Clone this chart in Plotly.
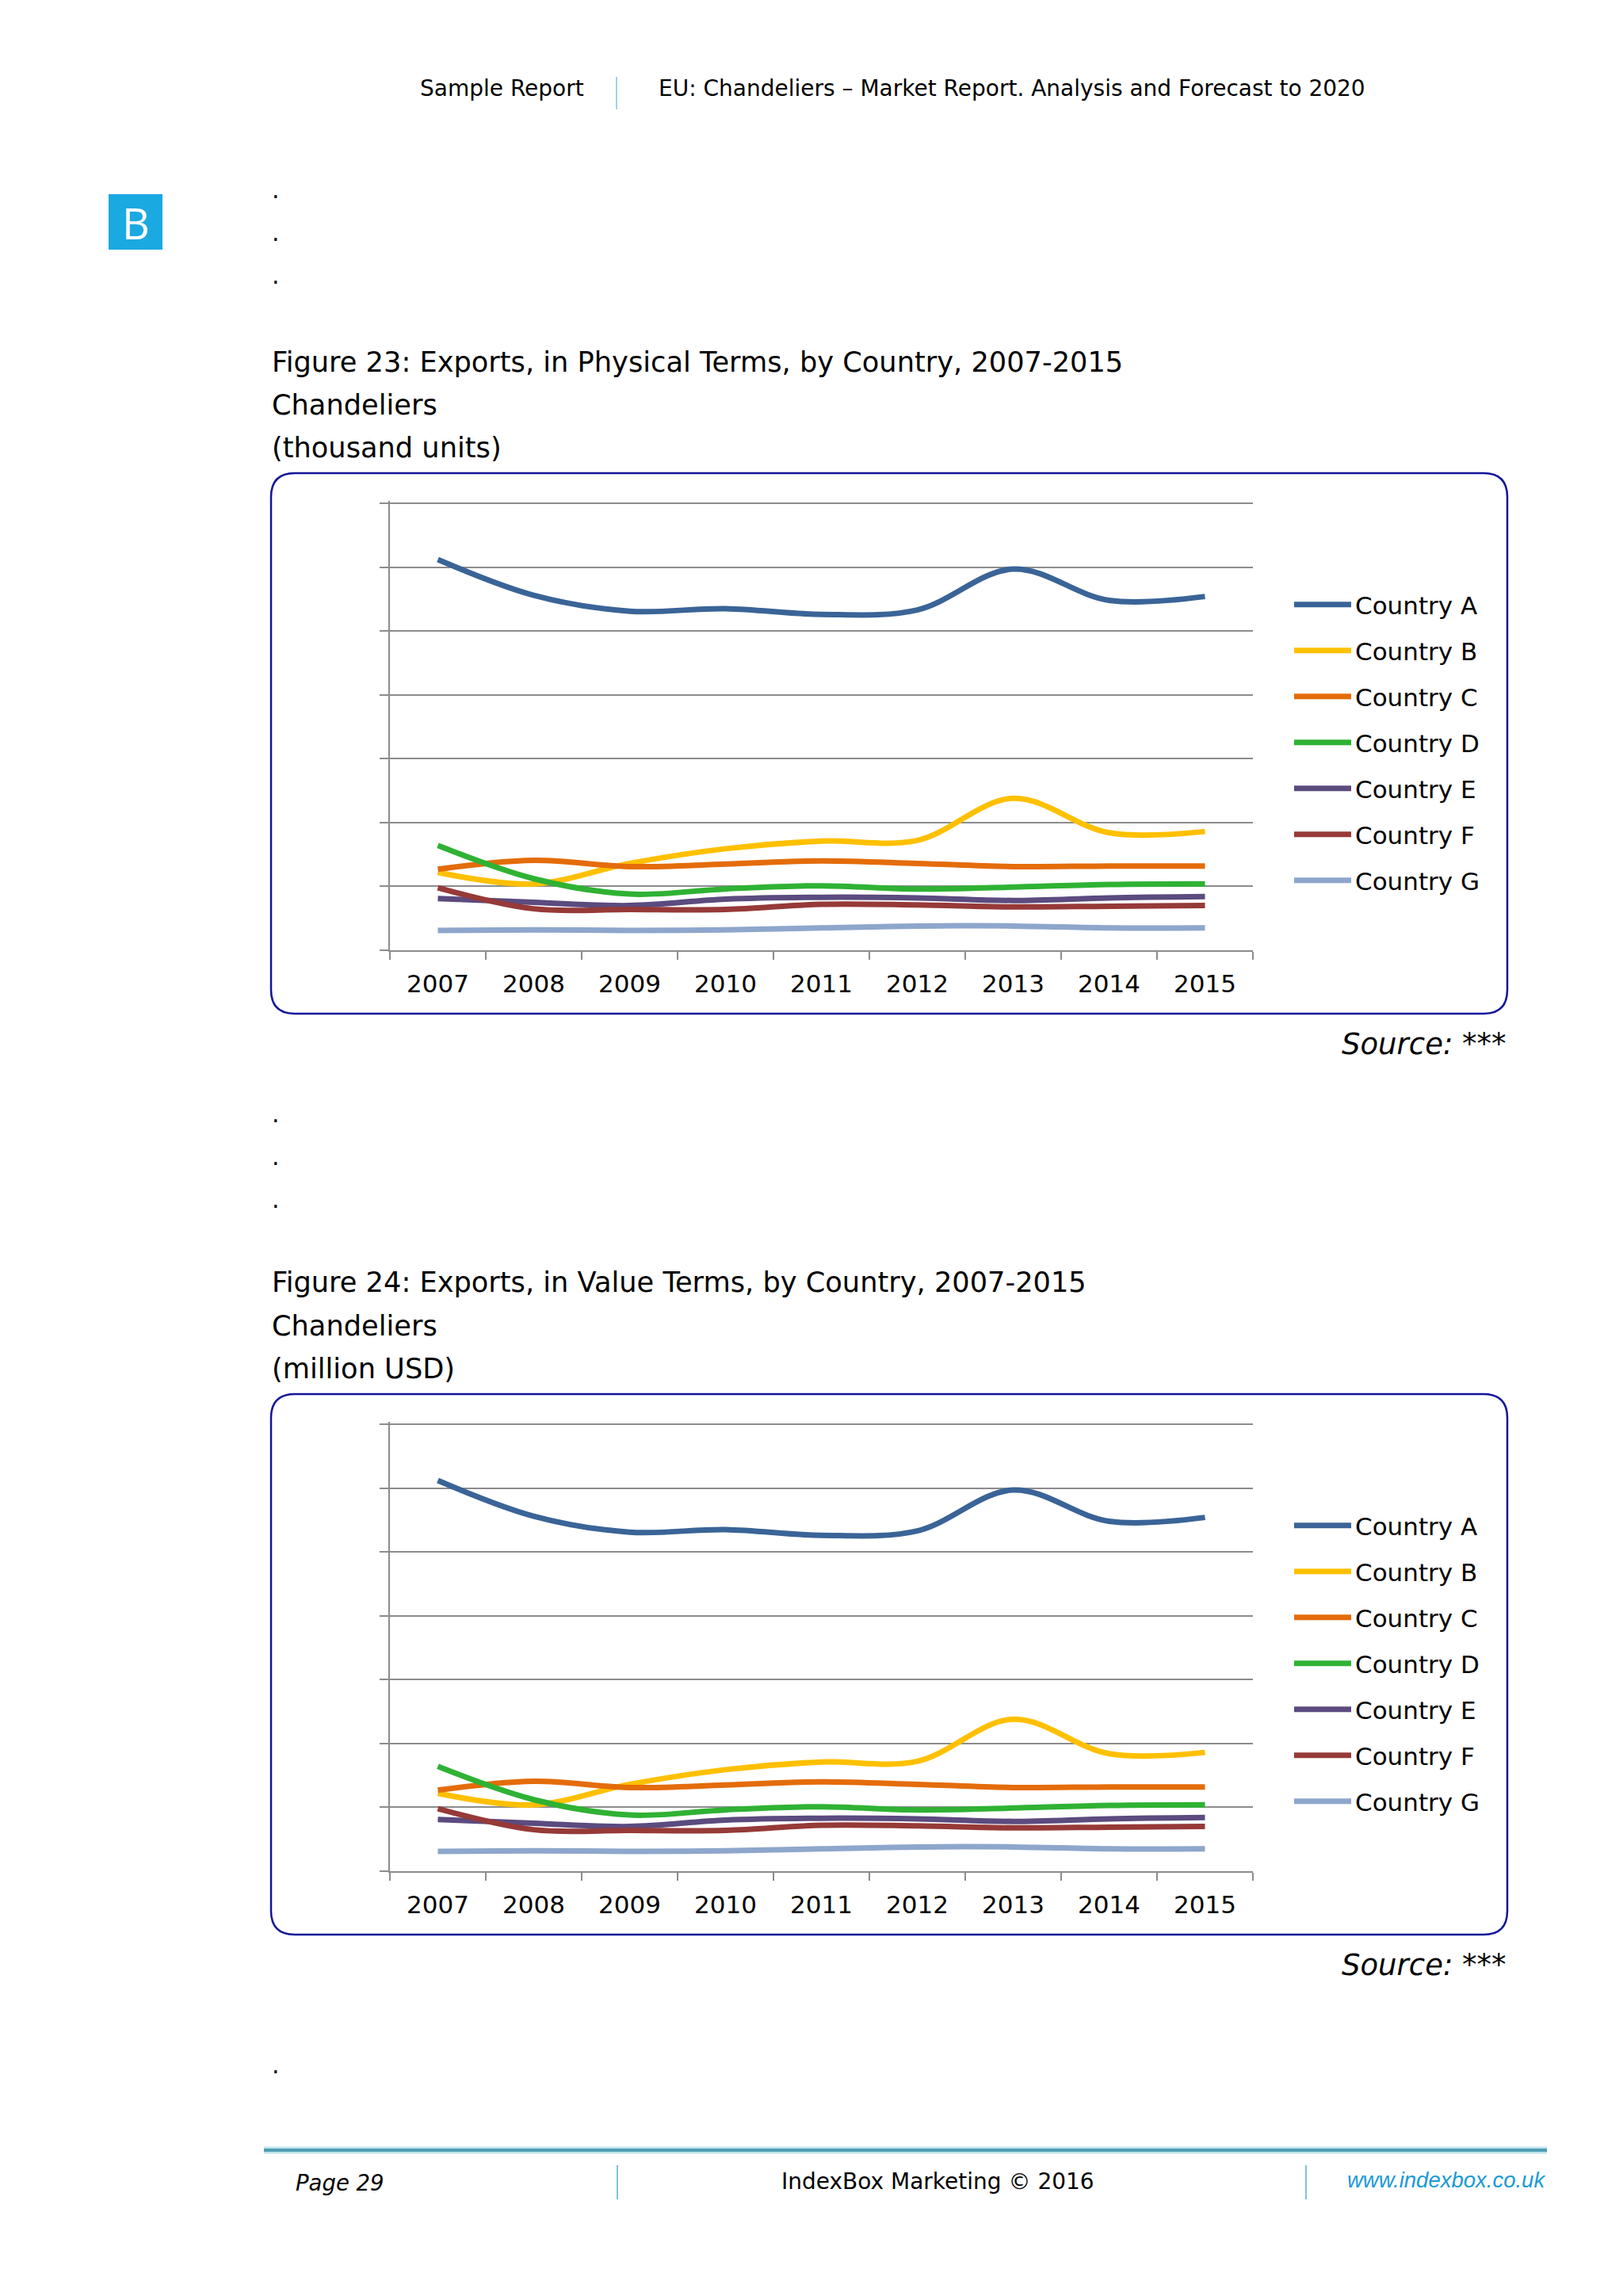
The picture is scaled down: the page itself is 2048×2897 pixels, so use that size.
import plotly.graph_objects as go

# ---------------- data ----------------
years = ["2007", "2008", "2009", "2010", "2011", "2012", "2013", "2014", "2015"]
countries = ["Country A", "Country B", "Country C", "Country D", "Country E", "Country F", "Country G"]

# Figure 23: physical terms (grid units, axis 0..7, no labels shown)
phys_country_a = [6.12, 5.56, 5.31, 5.35, 5.26, 5.33, 5.97, 5.48, 5.54]
phys_country_b = [1.22, 1.04, 1.36, 1.59, 1.71, 1.72, 2.38, 1.84, 1.86]
phys_country_c = [1.27, 1.41, 1.31, 1.35, 1.40, 1.36, 1.31, 1.32, 1.32]
phys_country_d = [1.64, 1.12, 0.88, 0.96, 1.01, 0.96, 0.99, 1.03, 1.04]
phys_country_e = [0.81, 0.75, 0.70, 0.80, 0.83, 0.82, 0.78, 0.82, 0.84]
phys_country_f = [0.98, 0.65, 0.64, 0.64, 0.72, 0.71, 0.68, 0.69, 0.70]
phys_country_g = [0.31, 0.32, 0.31, 0.32, 0.35, 0.38, 0.38, 0.35, 0.35]

# Figure 24: value terms
value_country_a = [6.12, 5.56, 5.31, 5.35, 5.26, 5.33, 5.97, 5.48, 5.54]
value_country_b = [1.22, 1.04, 1.36, 1.59, 1.71, 1.72, 2.38, 1.84, 1.86]
value_country_c = [1.27, 1.41, 1.31, 1.35, 1.40, 1.36, 1.31, 1.32, 1.32]
value_country_d = [1.64, 1.12, 0.88, 0.96, 1.01, 0.96, 0.99, 1.03, 1.04]
value_country_e = [0.81, 0.75, 0.70, 0.80, 0.83, 0.82, 0.78, 0.82, 0.84]
value_country_f = [0.98, 0.65, 0.64, 0.64, 0.72, 0.71, 0.68, 0.69, 0.70]
value_country_g = [0.31, 0.32, 0.31, 0.32, 0.35, 0.38, 0.38, 0.35, 0.35]

series_colors = ["#3A6497", "#FFC000", "#E46C0A", "#2FB234", "#5B4B7F", "#963A38", "#8EA6CC"]

# ---------------- layout helpers ----------------
W, H = 2048, 2897
def px(x):
    return x / W
def py(y):
    return 1 - y / H

FONT = "DejaVu Sans"
GRID = "#8C8C8C"
NAVY = "#14149A"
OFF = 1162  # vertical offset between the two figures
YMAX = 7.04
UNIT = (1199 - 635) / 7.0
PLOT_TOP = 1199 - YMAX * UNIT

fig = go.Figure()

phys = [phys_country_a, phys_country_b, phys_country_c, phys_country_d,
        phys_country_e, phys_country_f, phys_country_g]
vals = [value_country_a, value_country_b, value_country_c, value_country_d,
        value_country_e, value_country_f, value_country_g]

for i, name in enumerate(countries):
    fig.add_trace(go.Scatter(
        x=years, y=phys[i], name=name, mode="lines",
        line=dict(color=series_colors[i], width=7, shape="spline", smoothing=1.0),
        xaxis="x", yaxis="y", legend="legend", legendgroup="p" + str(i),
        hoverinfo="skip"))
for i, name in enumerate(countries):
    fig.add_trace(go.Scatter(
        x=years, y=vals[i], name=name, mode="lines",
        line=dict(color=series_colors[i], width=7, shape="spline", smoothing=1.0),
        xaxis="x2", yaxis="y2", legend="legend2", legendgroup="v" + str(i),
        hoverinfo="skip"))

def xaxis_cfg(anchor):
    return dict(
        domain=[px(492), px(1581)], anchor=anchor, type="category",
        categoryorder="array", categoryarray=years, range=[-0.5, 8.5],
        tickson="boundaries", ticks="outside", ticklen=10, tickwidth=2,
        tickcolor=GRID, showline=True, linecolor=GRID, linewidth=2,
        showgrid=False, zeroline=False, ticklabelstandoff=14,
        tickfont=dict(family=FONT, size=31, color="#000000"), fixedrange=True)

def yaxis_cfg(anchor, top, bottom):
    return dict(
        domain=[py(bottom), py(top)], anchor=anchor, range=[0, YMAX], dtick=1,
        tick0=0, showticklabels=False, ticks="outside", ticklen=11, tickwidth=2,
        tickcolor=GRID, showgrid=True, gridcolor=GRID, gridwidth=2,
        showline=True, linecolor=GRID, linewidth=2, zeroline=False, fixedrange=True)

def legend_cfg(top):
    return dict(
        x=px(1628), y=py(top), xanchor="left", yanchor="top",
        font=dict(family=FONT, size=31, color="#000000"),
        bgcolor="rgba(0,0,0,0)", borderwidth=0, itemwidth=72,
        tracegroupgap=14.7, itemclick=False, itemdoubleclick=False)

def rounded_box(x0, y0, x1, y1, r):
    X = lambda v: px(v)
    Y = lambda v: py(v)
    return (f"M{X(x0 + r)},{Y(y0)} L{X(x1 - r)},{Y(y0)} "
            f"Q{X(x1)},{Y(y0)} {X(x1)},{Y(y0 + r)} "
            f"L{X(x1)},{Y(y1 - r)} Q{X(x1)},{Y(y1)} {X(x1 - r)},{Y(y1)} "
            f"L{X(x0 + r)},{Y(y1)} Q{X(x0)},{Y(y1)} {X(x0)},{Y(y1 - r)} "
            f"L{X(x0)},{Y(y0 + r)} Q{X(x0)},{Y(y0)} {X(x0 + r)},{Y(y0)} Z")

shapes = []
for off in (0, OFF):
    shapes.append(dict(type="path", xref="paper", yref="paper",
                       path=rounded_box(342, 597 + off, 1902, 1279 + off, 30),
                       line=dict(color=NAVY, width=2.5), fillcolor="rgba(0,0,0,0)", layer="below"))
# header separator
shapes.append(dict(type="line", xref="paper", yref="paper", x0=px(778), x1=px(778),
                   y0=py(97), y1=py(138), line=dict(color="#9BD3EA", width=2)))
# B logo
shapes.append(dict(type="rect", xref="paper", yref="paper", x0=px(137), x1=px(205),
                   y0=py(315), y1=py(245), fillcolor="#1BA9E1", line=dict(width=0)))
# footer rule
shapes.append(dict(type="line", xref="paper", yref="paper", x0=px(333), x1=px(1952),
                   y0=py(2713), y1=py(2713), line=dict(color="#BFE3EC", width=9)))
shapes.append(dict(type="line", xref="paper", yref="paper", x0=px(333), x1=px(1952),
                   y0=py(2713), y1=py(2713), line=dict(color="#4F9DB3", width=4)))
# footer separators
for xs in (779, 1648):
    shapes.append(dict(type="line", xref="paper", yref="paper", x0=px(xs), x1=px(xs),
                       y0=py(2732), y1=py(2775), line=dict(color="#7CC3E0", width=2)))

def ann(text, x, y, size, xanchor="left", color="#000000", italic=False, family=FONT):
    return dict(text=(f"<i>{text}</i>" if italic else text), x=px(x), y=py(y),
                xref="paper", yref="paper", xanchor=xanchor, yanchor="middle",
                showarrow=False, font=dict(family=family, size=size, color=color))

TITLE = 35.2
annotations = [
    ann("Sample Report", 528, 112, 28),
    ann("EU: Chandeliers – Market Report. Analysis and Forecast to 2020", 829, 111, 28),
    ann("B", 171, 281, 54, xanchor="center", color="#FFFFFF", family="Open Sans"),
    ann("Figure 23: Exports, in Physical Terms, by Country, 2007-2015", 341, 456, TITLE),
    ann("Chandeliers", 341, 510, TITLE),
    ann("(thousand units)", 341, 564, TITLE),
    ann("Source: ***", 1903, 1317, 37, xanchor="right", italic=True),
    ann("Figure 24: Exports, in Value Terms, by Country, 2007-2015", 341, 456 + OFF, TITLE),
    ann("Chandeliers", 341, 510 + OFF, TITLE),
    ann("(million USD)", 341, 564 + OFF, TITLE),
    ann("Source: ***", 1903, 1317 + OFF, 37, xanchor="right", italic=True),
    ann("Page 29", 371, 2754, 27.5, italic=True),
    ann("IndexBox Marketing © 2016", 1183, 2752, 28, xanchor="center"),
    ann("www.indexbox.co.uk", 1952, 2750, 27.5, xanchor="right", color="#1A9AD6",
        italic=True, family="Liberation Sans"),
]
for ydot in (240, 294, 348, 1405, 1459, 1513, 2605):
    annotations.append(ann(".", 341, ydot, 30))

fig.update_layout(
    width=W, height=H, autosize=False,
    margin=dict(l=0, r=0, t=0, b=0, pad=0),
    paper_bgcolor="#FFFFFF", plot_bgcolor="rgba(0,0,0,0)",
    showlegend=True,
    xaxis=xaxis_cfg("y"), yaxis=yaxis_cfg("x", PLOT_TOP, 1199),
    xaxis2=xaxis_cfg("y2"), yaxis2=yaxis_cfg("x2", PLOT_TOP + OFF, 1199 + OFF),
    legend=legend_cfg(736), legend2=legend_cfg(736 + OFF),
    shapes=shapes, annotations=annotations,
    hovermode=False,
)

fig.write_html("out.html", config={"displayModeBar": False},
               post_script="document.body.style.margin='0';document.body.style.overflow='hidden';")
